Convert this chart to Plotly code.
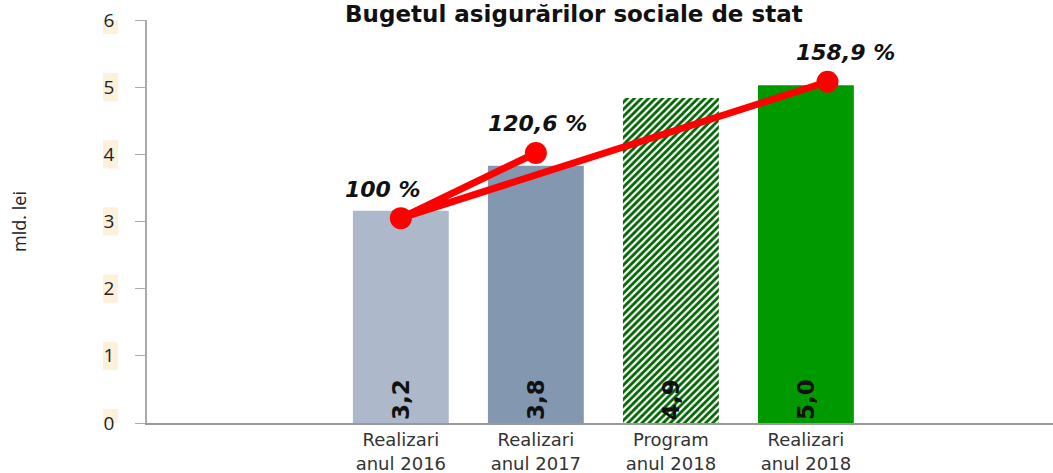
import plotly.graph_objects as go

# ---- data ----
categories = ["Realizari<br>anul 2016", "Realizari<br>anul 2017", "Program<br>anul 2018", "Realizari<br>anul 2018"]
cat_pos = [0, 1, 2, 3]
bar_values = [3.16, 3.83, 4.84, 5.03]
bar_labels = ["3,2", "3,8", "4,9", "5,0"]
bar_colors = ["#ADB9CA", "#8497B0", "#FFFFFF", "#009900"]
bar_patterns = ["", "", "/", ""]

line_x = [1, 0, 3.16]
line_y = [4.02, 3.05, 5.08]
line_labels = ["120,6 %", "100 %", "158,9 %"]
label_xshift = [2, -18, 18]

y_ticks = [0, 1, 2, 3, 4, 5, 6]

fig = go.Figure()

for i in range(len(cat_pos)):
    mk = dict(color=bar_colors[i], line=dict(width=0))
    if bar_patterns[i]:
        mk["pattern"] = dict(shape=bar_patterns[i], fgcolor="#006400", bgcolor="#FFFFFF",
                             fgopacity=1, size=5, solidity=0.55)
    fig.add_trace(go.Bar(
        x=[cat_pos[i]], y=[bar_values[i]], width=0.71,
        marker=mk,
        text=[bar_labels[i]], textposition="inside", insidetextanchor="start", textangle=-90,
        textfont=dict(family="DejaVu Sans", size=23, color="#111111", weight="bold"),
        hoverinfo="skip", showlegend=False,
    ))

fig.add_trace(go.Scatter(
    x=line_x, y=line_y, mode="lines+markers",
    line=dict(color="#FF0000", width=7),
    marker=dict(color="#FF0000", size=22),
    showlegend=False, hoverinfo="skip",
))

for xv, yv, t, xs in zip(line_x, line_y, line_labels, label_xshift):
    fig.add_annotation(x=xv, y=yv, text=t, showarrow=False, yshift=29, xshift=xs,
                       font=dict(family="DejaVu Sans", size=22, color="#111111",
                                 weight="bold", style="italic"))

# cream backgrounds behind y tick labels
for v in y_ticks:
    fig.add_shape(type="rect", xref="paper", yref="y", x0=-0.0486, x1=-0.032,
                  y0=v - 0.21, y1=v + 0.21, fillcolor="#FDF1DC", line=dict(width=0),
                  layer="below")

fig.update_layout(
    width=1053, height=473,
    margin=dict(l=147, r=0, t=20, b=50),
    paper_bgcolor="white", plot_bgcolor="white",
    barmode="overlay",
    title=dict(text="<b>Bugetul asigurărilor sociale de stat</b>", x=0.545, xanchor="center",
               y=0.97, yanchor="middle",
               font=dict(family="DejaVu Sans", size=23, color="#111111")),
    xaxis=dict(range=[-1.88, 4.83], tickvals=cat_pos, ticktext=categories,
               showline=True, linecolor="#999999", linewidth=1.5, ticks="",
               showgrid=False, zeroline=False,
               tickfont=dict(family="DejaVu Sans", size=18, color="#333333")),
    yaxis=dict(range=[0, 6], tickvals=y_ticks, showline=True, linecolor="#AAAAAA",
               linewidth=1.5, ticks="outside", ticklen=10, tickcolor="#AAAAAA",
               showgrid=False, zeroline=False, ticklabelstandoff=17,
               tickfont=dict(family="Open Sans", size=19, color="#222222"),
               title=dict(text="mld. lei", standoff=72,
                          font=dict(family="Open Sans", size=18, color="#222222"))),
)

fig.write_html("out.html", config={"displayModeBar": False},
               post_script="document.body.style.margin='0';")
